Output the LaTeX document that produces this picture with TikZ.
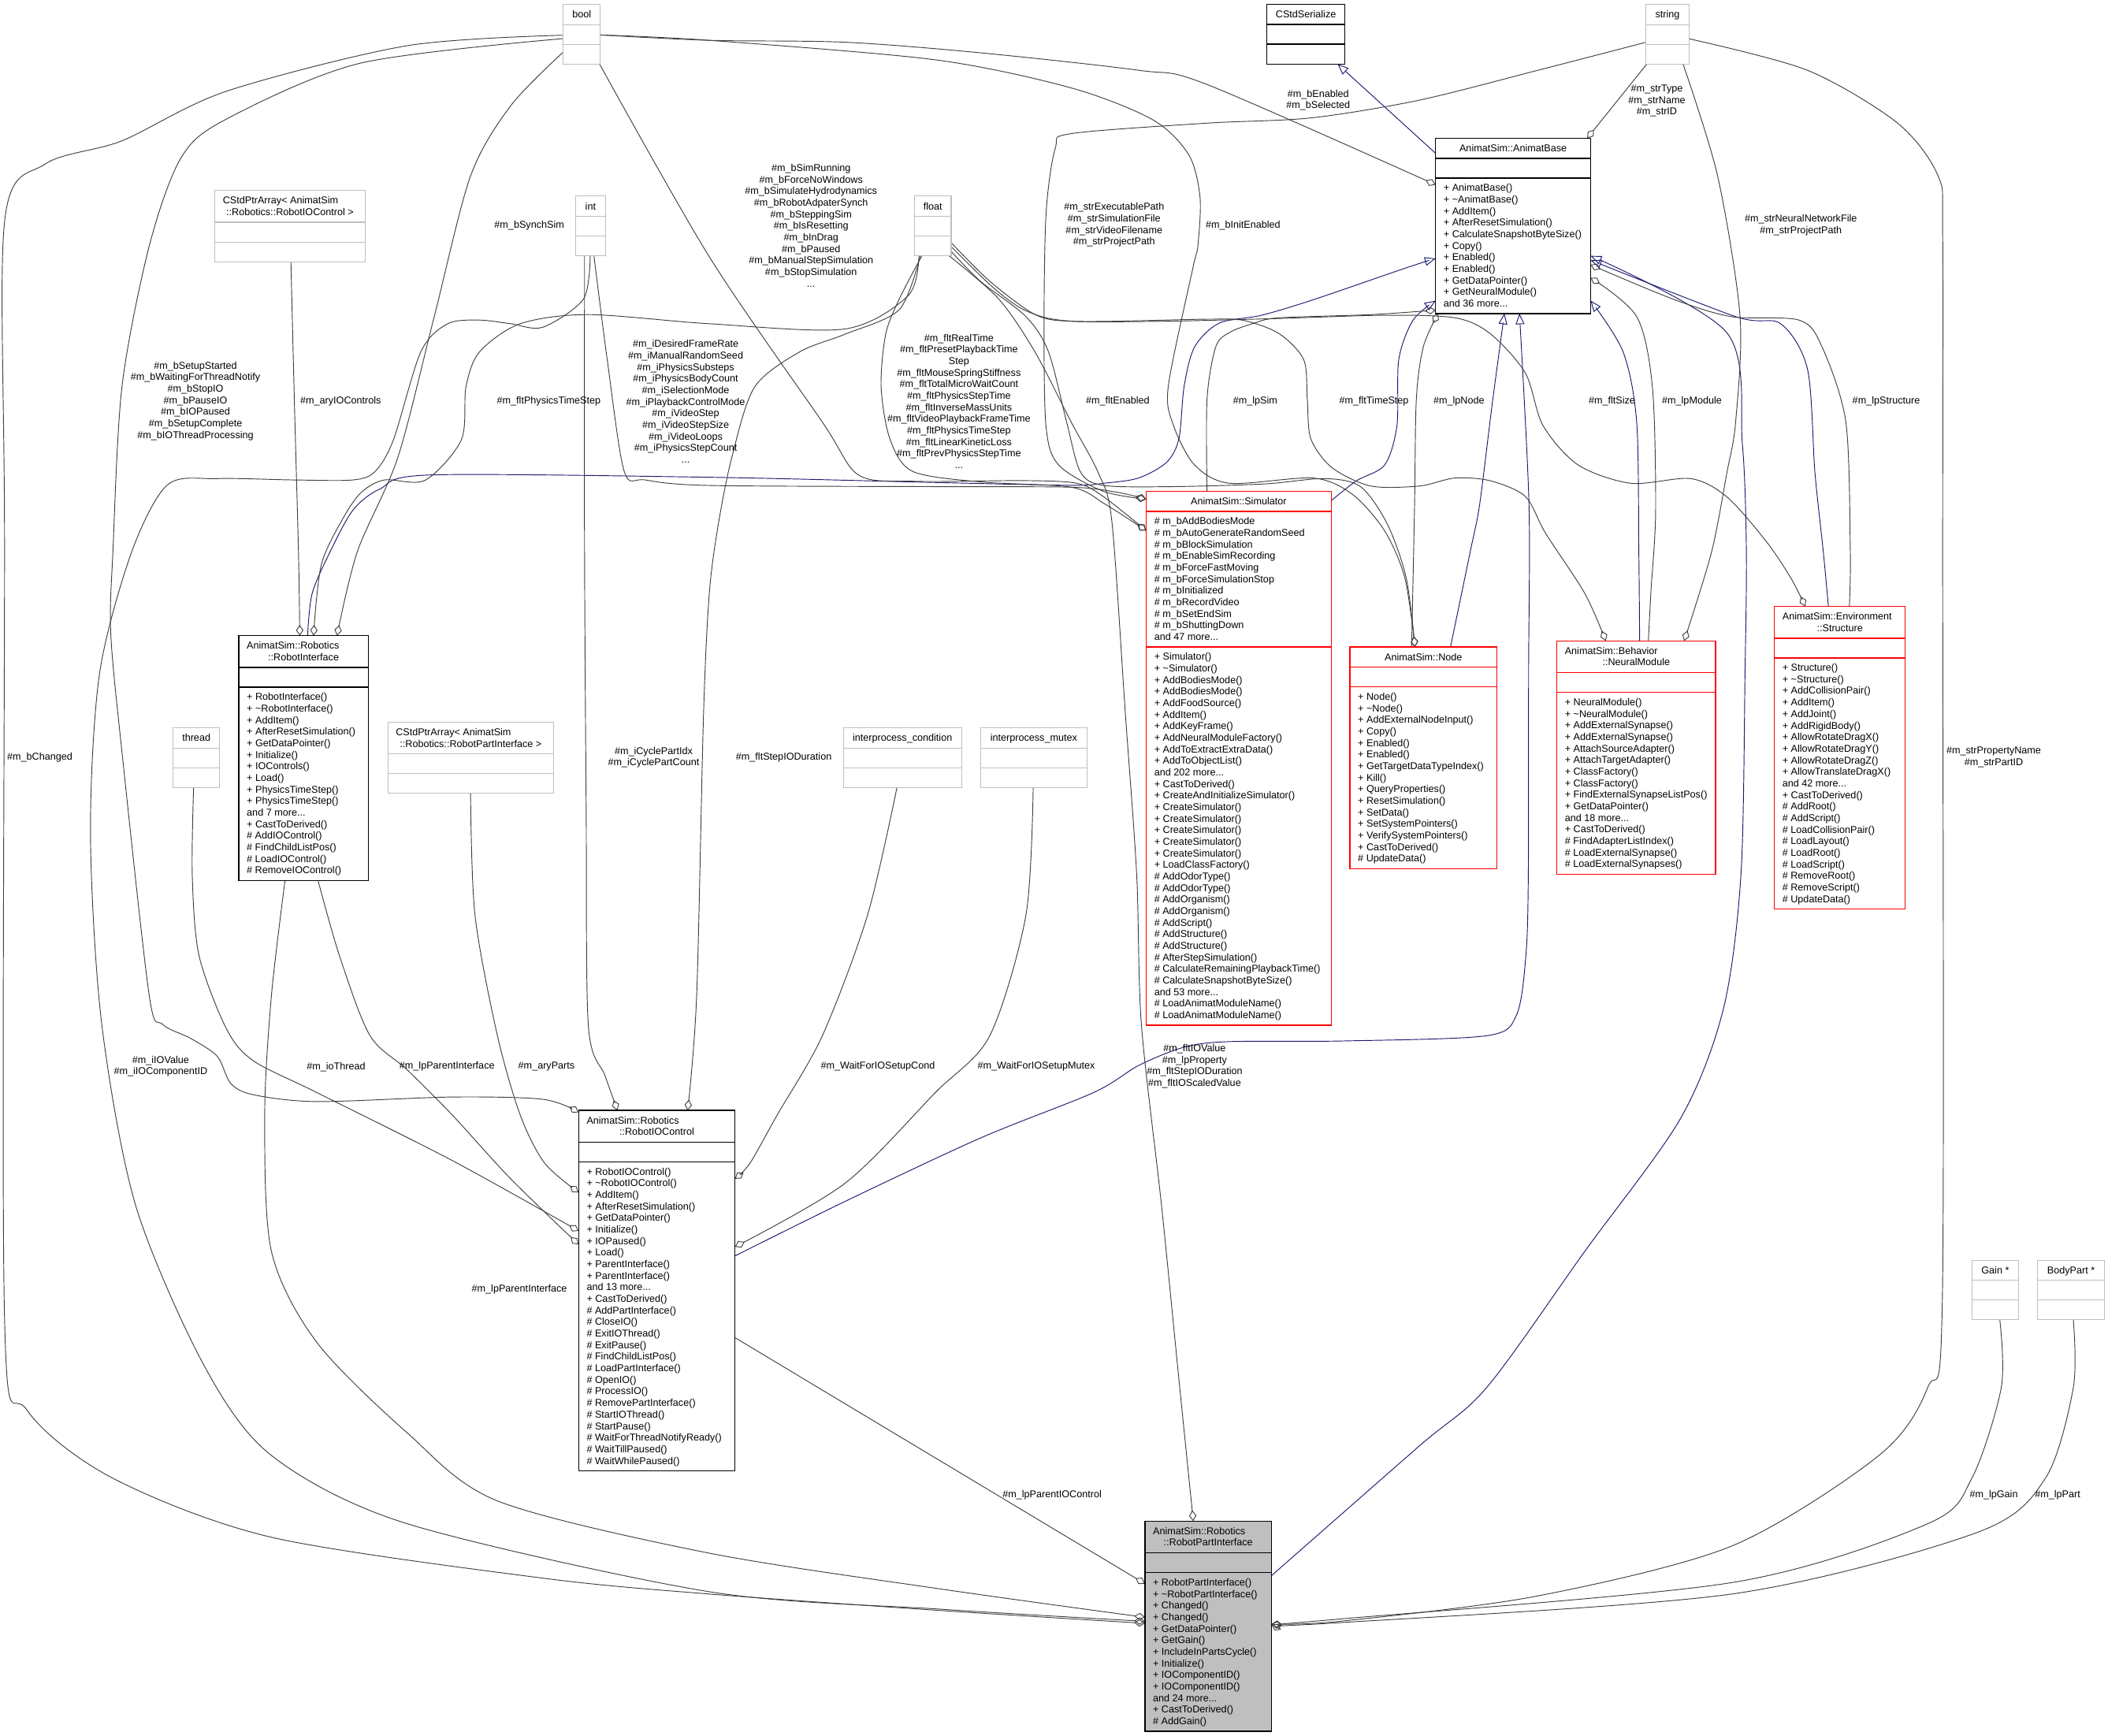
\documentclass[tikz,border=0pt]{standalone}
\usepackage{fontspec}
\setmainfont{Liberation Sans}
\usetikzlibrary{arrows.meta,calc}
\definecolor{edgec}{HTML}{404040}
\definecolor{navyc}{HTML}{191970}
\definecolor{graybd}{HTML}{BFBFBF}
\definecolor{redbd}{HTML}{FF0000}
\definecolor{rpifill}{HTML}{BFBFBF}
\newcommand\tld{\textasciitilde}
\newcommand\ddd{...}
\pgfdeclarelayer{back}
\pgfdeclarelayer{bg}
\pgfsetlayers{back,bg,main}
\tikzset{
 txt/.style={font=\fontsize{7.4}{8.6}\selectfont, inner sep=0pt, outer sep=0pt},
 lbl/.style={txt, align=center},
 gbox/.style={draw=graybd, line width=0.6pt},
 bbox/.style={draw=black, line width=0.8pt},
 rbox/.style={draw=redbd, line width=0.8pt},
 agg/.style={draw=edgec, line width=0.55pt, line join=round, -{Diamond[open,length=8pt,width=5.5pt]}},
 inh/.style={draw=navyc, line width=0.55pt, line join=round, -{Triangle[open,length=8pt,width=6.5pt]}},
}
% name, x1, y1, x2, y2, style, fill, separators
\newcommand\cls[8]{%
  \node[#6, fill=#7, inner sep=0pt, outer sep=0pt, anchor=north west,
        minimum width={(#4-#2)*1pt}, minimum height={(#5-#3)*1pt}] (#1) at (#2,#3) {};
  \foreach \s in {#8} {\draw[#6] (#2,\s) -- (#4,\s);}
}
% name prefix, x, first baseline, list
\newcommand\mlist[4]{%
  \foreach \t [count=\i] in {#4} {\node[txt, anchor=base west] (#1\i) at (#2,{#3+(\i-1)*8.6}) {\t};}
}
\begin{document}
\begin{tikzpicture}[x=1pt,y=-1pt]
\useasboundingbox (0,0) rectangle (1568,1291);
\begin{pgfonlayer}{back}
\fill[white] (0,0) rectangle (1568,1291);
\end{pgfonlayer}

% ---------------- boxes ----------------
\cls{BOOL}{419}{3.2}{446.5}{47.7}{gbox}{white}{18.2,32.9}
\node[txt, anchor=base] (BOOLh) at (432.75,13.4) {bool};
\cls{CS}{942.4}{3.2}{1000.3}{47.7}{bbox}{white}{18.2,32.9}
\node[txt, anchor=base] (CSh) at (971.35,13.4) {CStdSerialize};
\cls{STR}{1224.4}{3.2}{1256.2}{47.7}{gbox}{white}{18.2,32.9}
\node[txt, anchor=base] (STRh) at (1240.3,13.4) {string};

\cls{AB}{1067.8}{102.8}{1183.2}{233.2}{bbox}{white}{117.8,132.5}
\node[txt, anchor=base] (ABh) at (1125.5,113) {AnimatSim::AnimatBase};
\mlist{ABm}{1073.8}{142.3}{+ AnimatBase(), + \tld AnimatBase(), + AddItem(), + AfterResetSimulation(), + CalculateSnapshotByteSize(), + Copy(), + Enabled(), + Enabled(), + GetDataPointer(), + GetNeuralModule(), and 36 more\ddd}

\cls{CSIO}{159.8}{141.6}{271.6}{194.7}{gbox}{white}{165.3,180}
\node[txt, anchor=base west] (CSIOh1) at (165.8,151.6) {CStdPtrArray< AnimatSim};
\node[txt, anchor=base] (CSIOh2) at (215.7,160.2) {::Robotics::RobotIOControl >};

\cls{INT}{428}{145.8}{450.5}{190.3}{gbox}{white}{160.8,175.5}
\node[txt, anchor=base] (INTh) at (439.25,156) {int};
\cls{FLT}{680.3}{145.8}{707.5}{190.3}{gbox}{white}{160.8,175.5}
\node[txt, anchor=base] (FLTh) at (693.9,156) {float};

\cls{SIM}{852.6}{365.4}{990.2}{762.6}{rbox}{white}{380.4,481.2}
\node[txt, anchor=base] (SIMh) at (921.4,375.6) {AnimatSim::Simulator};
\mlist{SIMa}{858.6}{390.2}{\# m\_bAddBodiesMode, \# m\_bAutoGenerateRandomSeed, \# m\_bBlockSimulation, \# m\_bEnableSimRecording, \# m\_bForceFastMoving, \# m\_bForceSimulationStop, \# m\_bInitialized, \# m\_bRecordVideo, \# m\_bSetEndSim, \# m\_bShuttingDown, and 47 more\ddd}
\mlist{SIMm}{858.6}{491}{+ Simulator(), + \tld Simulator(), + AddBodiesMode(), + AddBodiesMode(), + AddFoodSource(), + AddItem(), + AddKeyFrame(), + AddNeuralModuleFactory(), + AddToExtractExtraData(), + AddToObjectList(), and 202 more\ddd, + CastToDerived(), + CreateAndInitializeSimulator(), + CreateSimulator(), + CreateSimulator(), + CreateSimulator(), + CreateSimulator(), + CreateSimulator(), + LoadClassFactory(), \# AddOdorType(), \# AddOdorType(), \# AddOrganism(), \# AddOrganism(), \# AddScript(), \# AddStructure(), \# AddStructure(), \# AfterStepSimulation(), \# CalculateRemainingPlaybackTime(), \# CalculateSnapshotByteSize(), and 53 more\ddd, \# LoadAnimatModuleName(), \# LoadAnimatModuleName()}

\cls{NODE}{1004.1}{481.3}{1113.5}{646.2}{rbox}{white}{496.3,511}
\node[txt, anchor=base] (NODEh) at (1058.8,491.5) {AnimatSim::Node};
\mlist{NODEm}{1010.1}{520.8}{+ Node(), + \tld Node(), + AddExternalNodeInput(), + Copy(), + Enabled(), + Enabled(), + GetTargetDataTypeIndex(), + Kill(), + QueryProperties(), + ResetSimulation(), + SetData(), + SetSystemPointers(), + VerifySystemPointers(), + CastToDerived(), \# UpdateData()}

\cls{NM}{1158}{476.7}{1276.1}{650.3}{rbox}{white}{500.4,515.1}
\node[txt, anchor=base west] (NMh1) at (1164,486.7) {AnimatSim::Behavior};
\node[txt, anchor=base] (NMh2) at (1217.05,495.3) {::NeuralModule};
\mlist{NMm}{1164}{524.9}{+ NeuralModule(), + \tld NeuralModule(), + AddExternalSynapse(), + AddExternalSynapse(), + AttachSourceAdapter(), + AttachTargetAdapter(), + ClassFactory(), + ClassFactory(), + FindExternalSynapseListPos(), + GetDataPointer(), and 18 more\ddd, + CastToDerived(), \# FindAdapterListIndex(), \# LoadExternalSynapse(), \# LoadExternalSynapses()}

\cls{ST}{1319.8}{451}{1417.2}{676.2}{rbox}{white}{474.7,489.4}
\node[txt, anchor=base west] (STh1) at (1325.8,461) {AnimatSim::Environment};
\node[txt, anchor=base] (STh2) at (1368.5,469.6) {::Structure};
\mlist{STm}{1325.8}{499.2}{+ Structure(), + \tld Structure(), + AddCollisionPair(), + AddItem(), + AddJoint(), + AddRigidBody(), + AllowRotateDragX(), + AllowRotateDragY(), + AllowRotateDragZ(), + AllowTranslateDragX(), and 42 more\ddd, + CastToDerived(), \# AddRoot(), \# AddScript(), \# LoadCollisionPair(), \# LoadLayout(), \# LoadRoot(), \# LoadScript(), \# RemoveRoot(), \# RemoveScript(), \# UpdateData()}

\cls{RI}{177.6}{472.8}{273.9}{655}{bbox}{white}{496.5,511.2}
\node[txt, anchor=base west] (RIh1) at (183.6,482.8) {AnimatSim::Robotics};
\node[txt, anchor=base] (RIh2) at (225.75,491.4) {::RobotInterface};
\mlist{RIm}{183.6}{521}{+ RobotInterface(), + \tld RobotInterface(), + AddItem(), + AfterResetSimulation(), + GetDataPointer(), + Initialize(), + IOControls(), + Load(), + PhysicsTimeStep(), + PhysicsTimeStep(), and 7 more\ddd, + CastToDerived(), \# AddIOControl(), \# FindChildListPos(), \# LoadIOControl(), \# RemoveIOControl()}

\cls{THR}{128.9}{541.3}{163.2}{585.7}{gbox}{white}{556.3,571}
\node[txt, anchor=base] (THRh) at (146.05,551.5) {thread};
\cls{CSPA}{288.4}{537.1}{411.9}{590.2}{gbox}{white}{560.8,575.5}
\node[txt, anchor=base west] (CSPAh1) at (294.4,547.1) {CStdPtrArray< AnimatSim};
\node[txt, anchor=base] (CSPAh2) at (350.15,555.7) {::Robotics::RobotPartInterface >};
\cls{COND}{627.2}{541.3}{715.3}{585.7}{gbox}{white}{556.3,571}
\node[txt, anchor=base] (CONDh) at (671.25,551.5) {interprocess\_condition};
\cls{MTX}{729.4}{541.3}{808.5}{585.7}{gbox}{white}{556.3,571}
\node[txt, anchor=base] (MTXh) at (768.95,551.5) {interprocess\_mutex};

\cls{RIOC}{430.4}{825.9}{546.7}{1094.1}{bbox}{white}{849.6,864.3}
\node[txt, anchor=base west] (RIOCh1) at (436.4,835.9) {AnimatSim::Robotics};
\node[txt, anchor=base] (RIOCh2) at (488.55,844.5) {::RobotIOControl};
\mlist{RIOCm}{436.4}{874.1}{+ RobotIOControl(), + \tld RobotIOControl(), + AddItem(), + AfterResetSimulation(), + GetDataPointer(), + Initialize(), + IOPaused(), + Load(), + ParentInterface(), + ParentInterface(), and 13 more\ddd, + CastToDerived(), \# AddPartInterface(), \# CloseIO(), \# ExitIOThread(), \# ExitPause(), \# FindChildListPos(), \# LoadPartInterface(), \# OpenIO(), \# ProcessIO(), \# RemovePartInterface(), \# StartIOThread(), \# StartPause(), \# WaitForThreadNotifyReady(), \# WaitTillPaused(), \# WaitWhilePaused()}

\cls{RPI}{851.6}{1131.4}{945.8}{1287.8}{bbox}{rpifill}{1155.1,1169.8}
\node[txt, anchor=base west] (RPIh1) at (857.6,1141.4) {AnimatSim::Robotics};
\node[txt, anchor=base] (RPIh2) at (898.7,1150) {::RobotPartInterface};
\mlist{RPIm}{857.6}{1179.6}{+ RobotPartInterface(), + \tld RobotPartInterface(), + Changed(), + Changed(), + GetDataPointer(), + GetGain(), + IncludeInPartsCycle(), + Initialize(), + IOComponentID(), + IOComponentID(), and 24 more\ddd, + CastToDerived(), \# AddGain()}

\cls{GAIN}{1467}{937.3}{1501.2}{981.7}{gbox}{white}{952.3,967}
\node[txt, anchor=base] (GAINh) at (1484.1,947.5) {Gain *};
\cls{BP}{1515.8}{937.3}{1565.2}{981.7}{gbox}{white}{952.3,967}
\node[txt, anchor=base] (BPh) at (1540.5,947.5) {BodyPart *};

% ---------------- connectors ----------------
\begin{pgfonlayer}{bg}
% inheritance
\draw[inh] ($(AB.north west)+(0,11.2)$) -- ($(CS.south west)+(52.6,0)$);
\draw[inh] plot[smooth] coordinates {($(SIM.north east)+(0,7)$) (1009,357.6) (1030,345.8) (1039.1,316.5) (1040.4,267.7) (1050.9,238.4) ($(AB.north west)+(0,120.9)$)};
\draw[inh] plot[smooth] coordinates {($(RI.north west)+(51.2,0)$) (232.2,441.4) (245.6,410.3) (262.5,379.5) (282.6,363.7) (319.7,353.3) (527.6,355) (700,359) (796.8,361) (820.6,359.5) (846.8,355.6) (867.7,343.9) (876.9,326.3) (880.8,287.2) (888.6,258) (907,240.3) (938.4,234.5) (977.6,222.7) (1045.7,199.3) ($(AB.north west)+(0,89.5)$)};
\draw[inh] plot[smooth] coordinates {($(NODE.north west)+(74.8,0)$) (1093.6,410.3) (1100.6,375.2) (1110,300) ($(AB.south west)+(51.2,0)$)};
\draw[inh] plot[smooth] coordinates {($(RIOC.north east)+(0,108.3)$) (628.5,893.7) (729.5,846.4) (813.6,812.6) (847.2,792.4) (880.9,778.9) (914.5,774.8) (1000,774.3) (1105.9,770.4) (1128,755) (1135,710.6) (1136.8,650.8) (1137,500) (1137.3,375.2) ($(AB.south west)+(62.4,0)$)};
\draw[inh] plot[smooth] coordinates {($(NM.north west)+(61.6,0)$) (1219,410.3) (1217.4,314) (1207.3,261.7) ($(AB.north east)+(0,120.9)$)};
\draw[inh] plot[smooth] coordinates {($(ST.north west)+(40.2,0)$) (1356.2,410.3) (1350,351.7) (1344.5,274.8) (1324.5,240.8) (1291,235.5) ($(AB.north east)+(0,90.7)$)};
\draw[inh] plot[smooth] coordinates {($(RPI.north east)+(0,40.6)$) (1055.2,1076) (1105.9,1032) (1178.8,930.8) (1250,832) (1282,750) (1295,650) (1298,500) (1299,410) (1296,330) (1284.3,247.3) ($(AB.north east)+(0,87.5)$)};

% AnimatBase members
\draw[agg] plot[smooth] coordinates {($(SIM.north west)+(45.2,0)$) (897.8,297) (904.3,258) (914.8,247.2) (933.1,240.3) (951.5,236.4) (1020,234) ($(AB.south west)+(0,-2.5)$)};
\draw[agg] plot[smooth] coordinates {($(NODE.north west)+(45.9,0)$) (1052.2,375) (1053.5,297) (1058.7,258) ($(AB.south west)+(2,0)$)};
\draw[agg] plot[smooth] coordinates {($(NM.north west)+(68.1,0)$) (1228,440) (1231.5,380) (1229.1,288) (1217.4,235.5) ($(AB.north east)+(0,103.9)$)};
\draw[agg] plot[smooth] coordinates {($(ST.north west)+(55.8,0)$) (1376.3,410.3) (1373,314) (1354.6,256.5) (1337.8,238) (1287.7,235.5) (1244.2,222.4) ($(AB.north east)+(0,94.2)$)};

% bool
\draw[agg] plot[smooth] coordinates {($(BOOL.north west)+(27.5,22.8)$) (527.6,30) (628.5,31.4) (729.5,39.3) (847.2,52.3) (897.7,62.8) ($(AB.north west)+(0,34.6)$)};
\draw[agg] plot[smooth] coordinates {($(BOOL.north west)+(27.5,22.8)$) (527.6,30) (695.8,44.5) (796.8,65.4) (857.3,89) (884.2,115.1) (892.6,146.6) (891,183) (887.3,199.3) (869,287.2) (872.9,316.5) (888.6,345.9) (914.8,359.5) (977,355.6) (1006.3,368) (1030,395) (1045,430) ($(NODE.north west)+(48.4,0)$)};
\draw[agg] plot[smooth] coordinates {($(BOOL.north west)+(0,23)$) (302.8,34) (168,68) (90.8,104.7) (33.6,122) (3.4,165) (3.4,410) (3.4,981.4) (20.2,1049) (84,1099.6) (202,1143.5) (403.8,1173.9) (527.6,1185.7) (700,1198) ($(RPI.north west)+(0,76.1)$)};
\draw[agg] plot[smooth] coordinates {($(BOOL.north west)+(0,25.5)$) (268,47) (168,88.8) (134.6,117.5) (111,183) (90.8,287) (84,410) (82.4,471.3) (90.9,561) (111,740.5) (121.1,762) (141.3,772.1) (161.5,785.6) (171.6,805.9) (188.4,814.3) (235.5,819.4) (336.5,816) (403.8,817.7) ($(RIOC.north west)+(0,1.5)$)};
\draw[agg] plot[smooth] coordinates {($(BOOL.north west)+(0,35.5)$) (380,78.5) (350,130.9) (323,235.5) (296,340) (265.8,410.3) ($(RI.north west)+(73.1,0)$)};
\draw[agg] plot[smooth] coordinates {($(BOOL.south east)+(-0.5,0)$) (527.6,191) (611.7,314) (638.6,353.3) (680,358) (762,357.5) (801,359.5) (820.6,369.3) ($(SIM.north west)+(0,29.3)$)};

% int
\draw[agg] plot[smooth] coordinates {($(INT.south west)+(13.8,0)$) (452,270) (464.3,350.6) (480,357) (527.6,361.1) (700,362) (796.8,362.4) (830,366) ($(SIM.north west)+(0,5.8)$)};
\draw[agg] plot[smooth] coordinates {($(INT.south west)+(6.8,0)$) (434.8,410) (436,600) (437.6,762.6) (450,800) ($(RIOC.north west)+(28.9,0)$)};
\draw[agg] plot[smooth] coordinates {($(INT.south west)+(11,0)$) (434,222.4) (403.8,243.4) (380,240.8) (356.7,238.1) (333,240.8) (313,261.7) (292.7,327) (279,350.7) (262.5,357) (218.7,357) (161.5,356) (124.5,360.7) (97.6,411.5) (74,501.3) (67.3,620.9) (75.7,762) (101,897) (151.4,1015) (202,1082.7) (302.9,1133.4) (527.6,1184) (700,1197) ($(RPI.north west)+(0,74.6)$)};

% float
\draw[agg] plot[smooth] coordinates {($(FLT.south west)+(3.2,0)$) (675.6,219.8) (628.5,244.7) (527.6,240.8) (437.5,234) (387,240.8) (356.7,261.7) (346.6,287.8) (343.2,327.1) (316.3,357.2) (286,357) (269,366) (255.7,384.6) (239,420) ($(RI.north west)+(55.6,0)$)};
\draw[agg] plot[smooth] coordinates {($(FLT.south west)+(5.4,0)$) (668.9,222.4) (658.8,248.6) (655.4,288) (662.1,327) (679,350.7) (729.5,358.5) (796.8,362.4) (822,375) ($(SIM.north west)+(0,29.3)$)};
\draw[agg] plot[smooth] coordinates {($(FLT.south west)+(4.2,0)$) (668.9,230.3) (628.5,248.6) (594.9,261.7) (561.2,288) (544.4,340) (534.3,390) (527.6,441.4) (523.3,531.2) (518.2,740.5) ($(RIOC.north west)+(81.1,0)$)};
\draw[agg] plot[smooth] coordinates {($(FLT.south east)+(-1.5,0)$) (742.9,222.4) (769.8,261.7) (796.8,314) (816.9,351.7) (827,387.6) (837.1,531.2) (845.5,650.8) (849,762) (864,897) (877.5,1032) ($(RPI.north west)+(36,0)$)};
\draw[agg] plot[smooth] coordinates {($(FLT.north east)+(0,41.2)$) (729.5,209.4) (763.1,235.5) (779.9,261.7) (793.4,314) (803.5,350.7) (820.3,361) (870,362) (940,360) (985,356) (1012,362) (1032,390) (1046,430) ($(NODE.north west)+(48.4,0)$)};
\draw[agg] plot[smooth] coordinates {($(FLT.north east)+(0,37.7)$) (740,215) (765,232) (800,239) (899,237.4) (925.3,238.4) (951.5,248.2) (969.8,267.7) (972.4,297) (975,326.3) (990.7,347.8) (1019.5,361.5) (1056,361.5) (1082,355.6) (1108.5,357.6) (1134.6,369.3) (1149.6,396.6) (1178.8,441.4) ($(NM.north west)+(36.4,0)$)};
\draw[agg] plot[smooth] coordinates {($(FLT.north east)+(0,34.7)$) (736,209) (770,234) (797,239) (864,239) (948,237) (1030,234.5) (1082.3,236.4) (1108.5,248.2) (1134.6,277.5) (1147.7,316.5) (1173.9,345.9) (1213.1,359.5) (1257.5,356) (1284.5,369.6) (1313.6,402.5) (1331.8,429.5) ($(ST.north west)+(23,0)$)};

% string
\draw[agg] ($(STR.south west)+(0.5,0)$) -- ($(AB.north east)+(-2.6,0)$);
\draw[agg] plot[smooth] coordinates {($(STR.north west)+(0,28.2)$) (1143.8,52.3) (1055.2,74.6) (975,87.7) (897.7,91.6) (796.8,99.4) (785,110) (778.2,157) (776.6,235.5) (778,316.5) (787.4,345.8) (820.6,365.4) ($(SIM.north west)+(0,5.8)$)};
\draw[agg] plot[smooth] coordinates {($(STR.south west)+(27.5,0)$) (1277.6,130.9) (1294.3,235.5) (1291,314) (1284.5,351.7) (1273,411) ($(NM.north west)+(94.7,0)$)};
\draw[agg] plot[smooth] coordinates {($(STR.north east)+(0,25.6)$) (1344.5,52.3) (1411.5,91.6) (1441.6,130.9) (1445,175) (1445,410) (1444.8,964.6) (1433.9,1032) (1397.5,1082.7) (1288.1,1150) (1142.3,1187.4) (996.5,1206) ($(RPI.north east)+(0,76.6)$)};

% other members
\draw[agg] plot[smooth] coordinates {($(CSIO.south west)+(56.6,0)$) (219,300) (222,410) ($(RI.north west)+(45.4,0)$)};
\draw[agg] plot[smooth] coordinates {($(THR.south west)+(15.1,0)$) (143,650.8) (148,710.6) (168.3,765) (188.4,789) (235.5,812.6) (336.5,863.3) ($(RIOC.north west)+(0,89.7)$)};
\draw[agg] plot[smooth] coordinates {($(RI.south west)+(59,0)$) (252.4,710.6) (275,770) (302.9,795.8) (336.5,829.5) (380,877) ($(RIOC.north west)+(0,99.8)$)};
\draw[agg] plot[smooth] coordinates {($(CSPA.south west)+(61.6,0)$) (353.3,680.7) (370,770.4) (387,829.5) (405,865) ($(RIOC.north west)+(0,61)$)};
\draw[agg] plot[smooth] coordinates {($(COND.south west)+(40,0)$) (645.3,680.7) (611.7,770.4) (578,829.5) (558,865) ($(RIOC.north east)+(0,50.9)$)};
\draw[agg] plot[smooth] coordinates {($(MTX.south west)+(39.1,0)$) (763.1,680.7) (736.2,770.4) (695.8,812.6) (628.5,880.2) ($(RIOC.north east)+(0,101.5)$)};
\draw[agg] ($(RIOC.north east)+(0,169.1)$) -- ($(RPI.north west)+(0,46.6)$);
\draw[agg] plot[smooth] coordinates {($(RI.south west)+(34.4,0)$) (201.9,740.5) (196.9,829.5) (201.9,930.8) (235.5,998.3) (302.9,1065.8) (370.2,1116.5) (527.6,1155.3) (700,1182) ($(RPI.north west)+(0,71.6)$)};
\draw[agg] plot[smooth] coordinates {($(GAIN.south west)+(20.5,0)$) (1488.6,1032) (1466.7,1099.6) (1433.9,1133.4) (1288.1,1177.2) (996.5,1204.3) ($(RPI.north east)+(0,76.6)$)};
\draw[agg] plot[smooth] coordinates {($(BP.south west)+(26.4,0)$) (1542.2,1032) (1521.4,1099.6) (1470.4,1140) (1288.1,1185.7) (996.5,1207) ($(RPI.north east)+(0,77)$)};
\end{pgfonlayer}

% ---------------- labels ----------------
\node[lbl] (L1) at (29.6,563.2) {\#m\_bChanged};
\node[lbl] (L2) at (145.4,298.3) {\#m\_bSetupStarted\\\#m\_bWaitingForThreadNotify\\\#m\_bStopIO\\\#m\_bPauseIO\\\#m\_bIOPaused\\\#m\_bSetupComplete\\\#m\_bIOThreadProcessing};
\node[lbl] (L3) at (253.4,298.3) {\#m\_aryIOControls};
\node[lbl] (L4) at (393.7,167.5) {\#m\_bSynchSim};
\node[lbl] (L5) at (408.2,298.3) {\#m\_fltPhysicsTimeStep};
\node[lbl] (L6) at (510,298.7) {\#m\_iDesiredFrameRate\\\#m\_iManualRandomSeed\\\#m\_iPhysicsSubsteps\\\#m\_iPhysicsBodyCount\\\#m\_iSelectionMode\\\#m\_iPlaybackControlMode\\\#m\_iVideoStep\\\#m\_iVideoStepSize\\\#m\_iVideoLoops\\\#m\_iPhysicsStepCount\\...};
\node[lbl] (L7) at (603.3,167.8) {\#m\_bSimRunning\\\#m\_bForceNoWindows\\\#m\_bSimulateHydrodynamics\\\#m\_bRobotAdpaterSynch\\\#m\_bSteppingSim\\\#m\_bIsResetting\\\#m\_bInDrag\\\#m\_bPaused\\\#m\_bManualStepSimulation\\\#m\_bStopSimulation\\...};
\node[lbl] (L8) at (713.3,298.5) {\#m\_fltRealTime\\\#m\_fltPresetPlaybackTime\\Step\\\#m\_fltMouseSpringStiffness\\\#m\_fltTotalMicroWaitCount\\\#m\_fltPhysicsStepTime\\\#m\_fltInverseMassUnits\\\#m\_fltVideoPlaybackFrameTime\\\#m\_fltPhysicsTimeStep\\\#m\_fltLinearKineticLoss\\\#m\_fltPrevPhysicsStepTime\\...};
\node[lbl] (L9) at (828.7,167.4) {\#m\_strExecutablePath\\\#m\_strSimulationFile\\\#m\_strVideoFilename\\\#m\_strProjectPath};
\node[lbl] (L10) at (831.4,298.3) {\#m\_fltEnabled};
\node[lbl] (L11) at (924.6,167.5) {\#m\_bInitEnabled};
\node[lbl] (L12) at (933.7,298.3) {\#m\_lpSim};
\node[lbl] (L13) at (980.5,74.6) {\#m\_bEnabled\\\#m\_bSelected};
\node[lbl] (L14) at (1022,298.3) {\#m\_fltTimeStep};
\node[lbl] (L15) at (1085.2,298.3) {\#m\_lpNode};
\node[lbl] (L16) at (1199,298.3) {\#m\_fltSize};
\node[lbl] (L17) at (1258.5,298.3) {\#m\_lpModule};
\node[lbl] (L18) at (1403,298.3) {\#m\_lpStructure};
\node[lbl] (L19) at (1232.4,75) {\#m\_strType\\\#m\_strName\\\#m\_strID};
\node[lbl] (L20) at (1339.5,167.6) {\#m\_strNeuralNetworkFile\\\#m\_strProjectPath};
\node[lbl] (L21) at (1483,563.4) {\#m\_strPropertyName\\\#m\_strPartID};
\node[lbl] (L22) at (486.2,563.4) {\#m\_iCyclePartIdx\\\#m\_iCyclePartCount};
\node[lbl] (L23) at (583,563.2) {\#m\_fltStepIODuration};
\node[lbl] (L24) at (250,793.5) {\#m\_ioThread};
\node[lbl] (L25) at (332.5,793.5) {\#m\_lpParentInterface};
\node[lbl] (L26) at (406.5,793.5) {\#m\_aryParts};
\node[lbl] (L27) at (653,793.5) {\#m\_WaitForIOSetupCond};
\node[lbl] (L28) at (770.8,793.5) {\#m\_WaitForIOSetupMutex};
\node[lbl] (L29) at (888.6,793.2) {\#m\_fltIOValue\\\#m\_lpProperty\\\#m\_fltStepIODuration\\\#m\_fltIOScaledValue};
\node[lbl] (L30) at (119.5,793.3) {\#m\_iIOValue\\\#m\_iIOComponentID};
\node[lbl] (L31) at (386.3,959.2) {\#m\_lpParentInterface};
\node[lbl] (L32) at (782.6,1111.8) {\#m\_lpParentIOControl};
\node[lbl] (L33) at (1483,1111.8) {\#m\_lpGain};
\node[lbl] (L34) at (1530.5,1111.8) {\#m\_lpPart};
\end{tikzpicture}
\end{document}
